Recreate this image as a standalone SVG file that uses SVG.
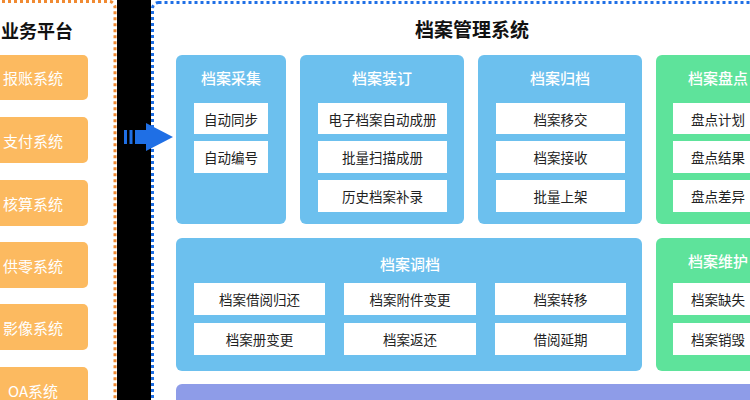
<svg xmlns="http://www.w3.org/2000/svg" width="750" height="400" viewBox="0 0 750 400">
<style>
text{font-family:"Noto Sans CJK SC","Liberation Sans",sans-serif;text-anchor:middle;dominant-baseline:central}
.h{font-size:18px;font-weight:bold;fill:#111}
.o{fill:#FCBA60}
.ot{font-size:15px;fill:#fff}
.b{fill:#6CC0EE}
.g{fill:#5EE39B}
.p{fill:#8E9CE8}
.bt{font-size:15px;fill:#fff;font-weight:500}
.s{fill:#fff}
.st{font-size:13.5px;fill:#222}
</style>
<rect width="750" height="400" fill="#fff"/>
<rect x="117" y="0" width="34" height="400" fill="#000"/>
<rect x="-40" y="1.5" width="155" height="420" rx="6" fill="none" stroke="#F08A32" stroke-width="3" stroke-dasharray="3 3"/>
<rect x="152.5" y="2.5" width="640" height="420" rx="6" fill="none" stroke="#1F6FE5" stroke-width="3" stroke-dasharray="3 3"/>
<text class="h" x="37" y="30">业务平台</text>
<text class="h" x="472" y="28" style="font-size:19px">档案管理系统</text>
<g id="biz">
<g id="n-baozhang"><rect class="o" x="-20" y="55" width="108" height="45" rx="5"/><text class="ot" x="33" y="77.5">报账系统</text></g>
<g id="n-zhifu"><rect class="o" x="-20" y="117" width="108" height="46" rx="5"/><text class="ot" x="33" y="140">支付系统</text></g>
<g id="n-hesuan"><rect class="o" x="-20" y="180" width="108" height="46" rx="5"/><text class="ot" x="33" y="203">核算系统</text></g>
<g id="n-gongling"><rect class="o" x="-20" y="242" width="108" height="46" rx="5"/><text class="ot" x="33" y="265">供零系统</text></g>
<g id="n-yingxiang"><rect class="o" x="-20" y="304" width="108" height="46" rx="5"/><text class="ot" x="33" y="327">影像系统</text></g>
<g id="n-oa"><rect class="o" x="-20" y="367" width="108" height="46" rx="5"/><text class="ot" x="33" y="390">OA系统</text></g>
</g>
<g id="connectors" fill="#1F6FE5">
<rect x="124" y="130" width="3" height="14"/>
<rect x="129.5" y="130" width="3" height="14"/>
<rect x="135" y="130" width="13" height="14"/>
<polygon points="146,123 173,137 146,151"/>
</g>
<g id="caiji"><rect class="b" x="176" y="55" width="110" height="169" rx="6"/><text class="bt" x="231" y="77">档案采集</text>
<rect class="s" x="194" y="103" width="74" height="31"/><text class="st" x="231" y="118.5">自动同步</text>
<rect class="s" x="194" y="141" width="74" height="32"/><text class="st" x="231" y="157">自动编号</text></g>
<g id="zhuangding"><rect class="b" x="300" y="55" width="164" height="169" rx="6"/><text class="bt" x="382" y="77">档案装订</text>
<rect class="s" x="318" y="103" width="129" height="31"/><text class="st" x="382.5" y="118.5">电子档案自动成册</text>
<rect class="s" x="318" y="141" width="129" height="32"/><text class="st" x="382.5" y="157">批量扫描成册</text>
<rect class="s" x="318" y="180" width="129" height="32"/><text class="st" x="382.5" y="196">历史档案补录</text></g>
<g id="guidang"><rect class="b" x="478" y="55" width="164" height="169" rx="6"/><text class="bt" x="560" y="77">档案归档</text>
<rect class="s" x="496" y="103" width="129" height="31"/><text class="st" x="560.5" y="118.5">档案移交</text>
<rect class="s" x="496" y="141" width="129" height="32"/><text class="st" x="560.5" y="157">档案接收</text>
<rect class="s" x="496" y="180" width="129" height="32"/><text class="st" x="560.5" y="196">批量上架</text></g>
<g id="pandian"><rect class="g" x="656" y="55" width="124" height="169" rx="6"/><text class="bt" x="718" y="77">档案盘点</text>
<rect class="s" x="673" y="103" width="90" height="31"/><text class="st" x="718" y="118.5">盘点计划</text>
<rect class="s" x="673" y="141" width="90" height="32"/><text class="st" x="718" y="157">盘点结果</text>
<rect class="s" x="673" y="180" width="90" height="32"/><text class="st" x="718" y="196">盘点差异</text></g>
<g id="diaodang"><rect class="b" x="176" y="238" width="466" height="133" rx="6"/><text class="bt" x="410" y="263">档案调档</text>
<rect class="s" x="194" y="283" width="131" height="32"/><text class="st" x="259.5" y="299">档案借阅归还</text>
<rect class="s" x="344" y="283" width="132" height="32"/><text class="st" x="410" y="299">档案附件变更</text>
<rect class="s" x="495" y="283" width="131" height="32"/><text class="st" x="560.5" y="299">档案转移</text>
<rect class="s" x="194" y="323" width="131" height="32"/><text class="st" x="259.5" y="339">档案册变更</text>
<rect class="s" x="344" y="323" width="132" height="32"/><text class="st" x="410" y="339">档案返还</text>
<rect class="s" x="495" y="323" width="131" height="32"/><text class="st" x="560.5" y="339">借阅延期</text></g>
<g id="weihu"><rect class="g" x="656" y="238" width="124" height="133" rx="6"/><text class="bt" x="718" y="260">档案维护</text>
<rect class="s" x="673" y="283" width="90" height="32"/><text class="st" x="718" y="299">档案缺失</text>
<rect class="s" x="673" y="323" width="90" height="32"/><text class="st" x="718" y="339">档案销毁</text></g>
<g id="bottom"><rect class="p" x="176" y="384" width="600" height="40" rx="6"/></g>
</svg>
